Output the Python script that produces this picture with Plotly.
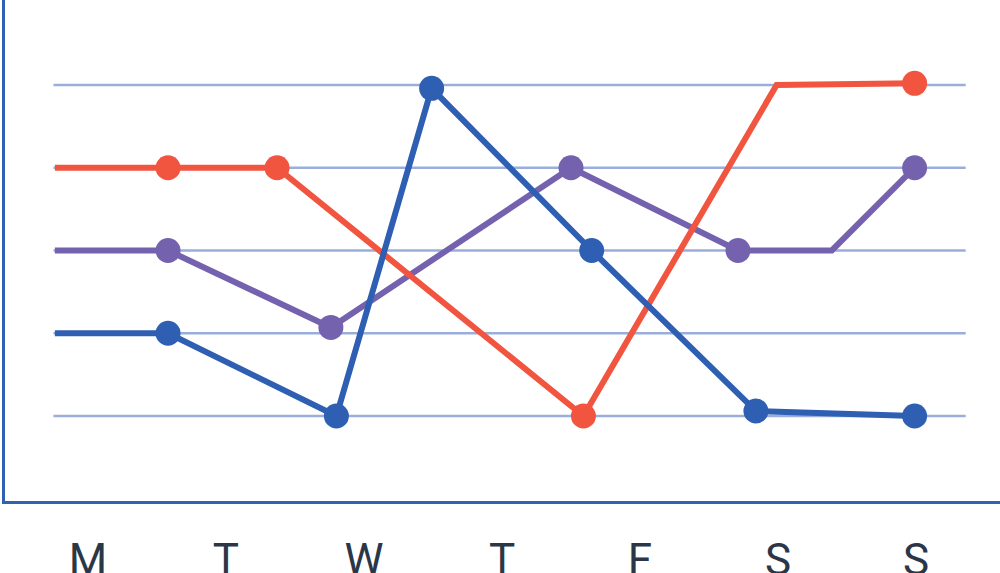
import plotly.graph_objects as go

# Day labels along the x axis (positions are day indices 0..6)
day_labels = ["M", "T", "W", "T", "F", "S", "S"]
day_positions = [0, 1, 2, 3, 4, 5, 6]

# Horizontal reference levels
grid_levels = [1, 2, 3, 4, 5]

# Series (x in day units, y in level units), plus marker flags
red_x = [-0.24, 0.58, 1.37, 3.59, 4.99, 5.99]
red_y = [4.0, 4.0, 4.0, 1.0, 5.0, 5.02]
red_marked = [False, True, True, True, False, True]

purple_x = [-0.24, 0.58, 1.76, 3.50, 4.71, 5.39, 5.99]
purple_y = [3.0, 3.0, 2.07, 4.0, 3.0, 3.0, 4.0]
purple_marked = [False, True, True, True, True, False, True]

blue_x = [-0.24, 0.58, 1.80, 2.49, 3.65, 4.84, 5.99]
blue_y = [2.0, 2.0, 1.0, 4.96, 3.0, 1.06, 1.0]
blue_marked = [False, True, True, True, True, True, True]

RED = "#f2553f"
PURPLE = "#7562ae"
BLUE = "#2e5fb2"
GRID = "#9aaedb"
AXIS = "#3061b3"
TEXT = "#2b3747"

fig = go.Figure()


def add_series(xs, ys, marked, color):
    sizes = [25 if m else 0 for m in marked]
    fig.add_trace(go.Scatter(
        x=xs, y=ys, mode="lines+markers",
        line=dict(color=color, width=6),
        marker=dict(color=color, size=sizes, opacity=1, line=dict(width=0)),
        showlegend=False, hoverinfo="skip", cliponaxis=False,
    ))


add_series(purple_x, purple_y, purple_marked, PURPLE)
add_series(red_x, red_y, red_marked, RED)
add_series(blue_x, blue_y, blue_marked, BLUE)

shapes = []
for lv in grid_levels:
    shapes.append(dict(type="line", xref="x", yref="y",
                       x0=-0.25, x1=6.36, y0=lv, y1=lv,
                       line=dict(color=GRID, width=2.5), layer="below"))

fig.update_layout(
    width=1000, height=573,
    margin=dict(l=5, r=0, t=0, b=72),
    paper_bgcolor="white", plot_bgcolor="white",
    shapes=shapes,
    xaxis=dict(
        range=[-0.6014, 6.6087], showgrid=False, zeroline=False,
        showline=True, linecolor=AXIS, linewidth=3,
        tickmode="array", tickvals=day_positions, ticktext=day_labels,
        ticks="", ticklabelstandoff=18,
        tickfont=dict(family="Roboto", size=44, color=TEXT),
        automargin=False, fixedrange=True,
    ),
    yaxis=dict(
        range=[-0.0272, 6.027], showgrid=False, zeroline=False,
        showline=True, linecolor=AXIS, linewidth=3,
        showticklabels=False, ticks="", automargin=False, fixedrange=True,
    ),
)

fig.write_html(
    "out.html",
    config={"displayModeBar": False},
    post_script="document.body.style.margin='0';document.body.style.overflow='hidden';",
)
